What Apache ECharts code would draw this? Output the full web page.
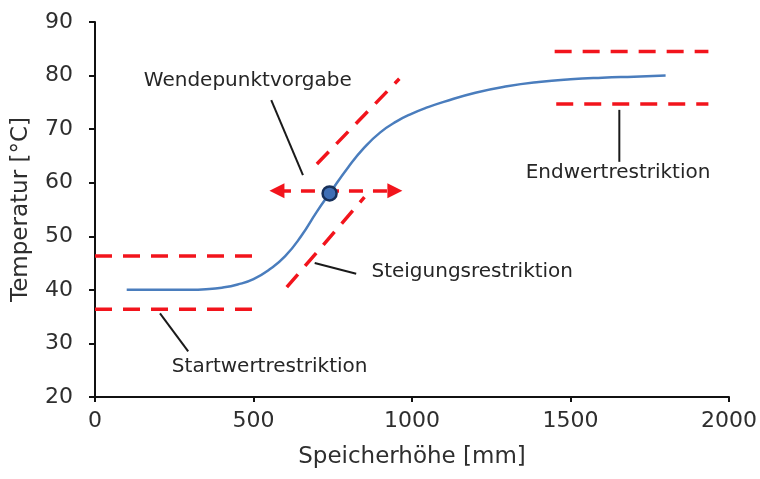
<!DOCTYPE html>
<html>
<head>
<meta charset="utf-8">
<script src="https://cdn.jsdelivr.net/npm/echarts@6/dist/echarts.min.js"></script>
<style>
  html, body { margin: 0; padding: 0; background: #ffffff; }
  #chart { width: 760px; height: 479px; }
</style>
</head>
<body>
<div id="chart"></div>
<script>
// Temperature profile along the storage height
const heightMm = [100, 200, 300, 350, 400, 450, 500, 550, 600, 650, 700, 740, 800, 850, 900, 950, 1000, 1050, 1100, 1200, 1300, 1400, 1500, 1600, 1700, 1800];
const tempC    = [40, 40, 40, 40.1, 40.4, 41, 42, 43.8, 46.3, 50, 54.6, 58, 63, 66.6, 69.4, 71.4, 72.9, 74.1, 75.1, 76.8, 78, 78.8, 79.3, 79.6, 79.8, 80];

// Inflection point
const inflection = [740, 58];

// Restriction bands (start/end values, slope)
const startUpper = [[0, 46.3], [500, 46.3]];
const startLower = [[0, 36.4], [505, 36.4]];
const endUpper   = [[1450, 84.5], [1935, 84.5]];
const endLower   = [[1455, 74.7], [1935, 74.7]];
const slopeUpper = [[700, 63.5], [960, 79.4]];
const slopeLower = [[605, 40.5], [850, 57.3]];

// Horizontal double arrow through the inflection point (symbol centres)
const inflectionArrow = [[574, 58.5], [946, 58.5]];

// Leader lines from labels to their restriction
const leaderWende = [[556, 75.4], [656, 61.4]];
const leaderSteig = [[693, 45], [824, 43]];
const leaderEnd   = [[1654, 73.6], [1654, 63.9]];
const leaderStart = [[205, 35.6], [294, 28.5]];

// Label texts and their anchor positions
const labelNames = ['Wendepunktvorgabe', 'Steigungsrestriktion', 'Endwertrestriktion', 'Startwertrestriktion'];
const labelX = [482, 1190, 1650, 551];
const labelY = [79.0, 43.3, 61.8, 25.6];

// Axis ticks
const xTicks = [0, 500, 1000, 1500, 2000];
const yTicks = [20, 30, 40, 50, 60, 70, 80, 90];

const FONT = 'DejaVu Sans';
const RED = '#f2141c';
const TEXT = '#2e2e2e';

function dashed(data) {
  return {
    type: 'line', data: data, symbol: 'none', silent: true,
    lineStyle: { color: RED, width: 3.5, type: [17, 11] }, z: 3
  };
}
function leader(data) {
  return {
    type: 'line', data: data, symbol: 'none', silent: true,
    lineStyle: { color: '#1a1a1a', width: 2 }, z: 3
  };
}

const chart = echarts.init(document.getElementById('chart'), null, { renderer: 'canvas' });

chart.setOption({
  animation: false,
  backgroundColor: '#ffffff',
  grid: { left: 95, right: 30, top: 22, bottom: 82, containLabel: false },
  xAxis: {
    type: 'value',
    min: xTicks[0], max: xTicks[xTicks.length - 1], interval: xTicks[1] - xTicks[0],
    name: 'Speicherhöhe [mm]', nameLocation: 'middle', nameGap: 49,
    nameTextStyle: { fontFamily: FONT, fontSize: 23, color: TEXT },
    axisLine: { show: true, lineStyle: { color: '#111', width: 2 } },
    axisTick: { show: true, length: 5, lineStyle: { color: '#111', width: 2 } },
    axisLabel: { fontFamily: FONT, fontSize: 22, color: TEXT, margin: 13, formatter: v => String(v) },
    splitLine: { show: false }
  },
  yAxis: {
    type: 'value',
    min: yTicks[0], max: yTicks[yTicks.length - 1], interval: yTicks[1] - yTicks[0],
    name: 'Temperatur [°C]', nameLocation: 'middle', nameGap: 62, nameRotate: 90,
    nameTextStyle: { fontFamily: FONT, fontSize: 23, color: TEXT },
    axisLine: { show: true, lineStyle: { color: '#111', width: 2 } },
    axisTick: { show: true, length: 6, lineStyle: { color: '#111', width: 2 } },
    axisLabel: { fontFamily: FONT, fontSize: 22, color: TEXT, margin: 22, formatter: v => String(v) },
    splitLine: { show: false }
  },
  series: [
    dashed(startUpper),
    dashed(startLower),
    dashed(endUpper),
    dashed(endLower),
    dashed(slopeUpper),
    dashed(slopeLower),
    {
      type: 'line', data: [], silent: true,
      markLine: {
        silent: true,
        symbol: ['triangle', 'triangle'],
        symbolSize: [15, 15],
        label: { show: false },
        lineStyle: { color: RED, width: 3.5, type: [14, 10] },
        itemStyle: { color: RED },
        data: [[{ coord: inflectionArrow[0] }, { coord: inflectionArrow[1] }]]
      }
    },
    leader(leaderWende),
    leader(leaderSteig),
    leader(leaderEnd),
    leader(leaderStart),
    {
      type: 'line',
      data: heightMm.map((x, i) => [x, tempC[i]]),
      smooth: 0.5,
      symbol: 'none', silent: true,
      lineStyle: { color: '#4a7dbd', width: 2.5 }, z: 4
    },
    {
      type: 'scatter', data: [inflection], silent: true,
      symbol: 'circle', symbolSize: 14,
      itemStyle: { color: '#3f6fb5', borderColor: '#17305a', borderWidth: 2.5, opacity: 1 }, z: 6
    },
    {
      type: 'scatter', silent: true, symbolSize: 0,
      itemStyle: { opacity: 1, color: 'rgba(0,0,0,0)' },
      data: labelNames.map((n, i) => ({ name: n, value: [labelX[i], labelY[i]] })),
      label: {
        show: true, position: 'inside', formatter: '{b}',
        fontFamily: FONT, fontSize: 20, color: '#262626', opacity: 1
      }, z: 5
    }
  ]
});
</script>
</body>
</html>
